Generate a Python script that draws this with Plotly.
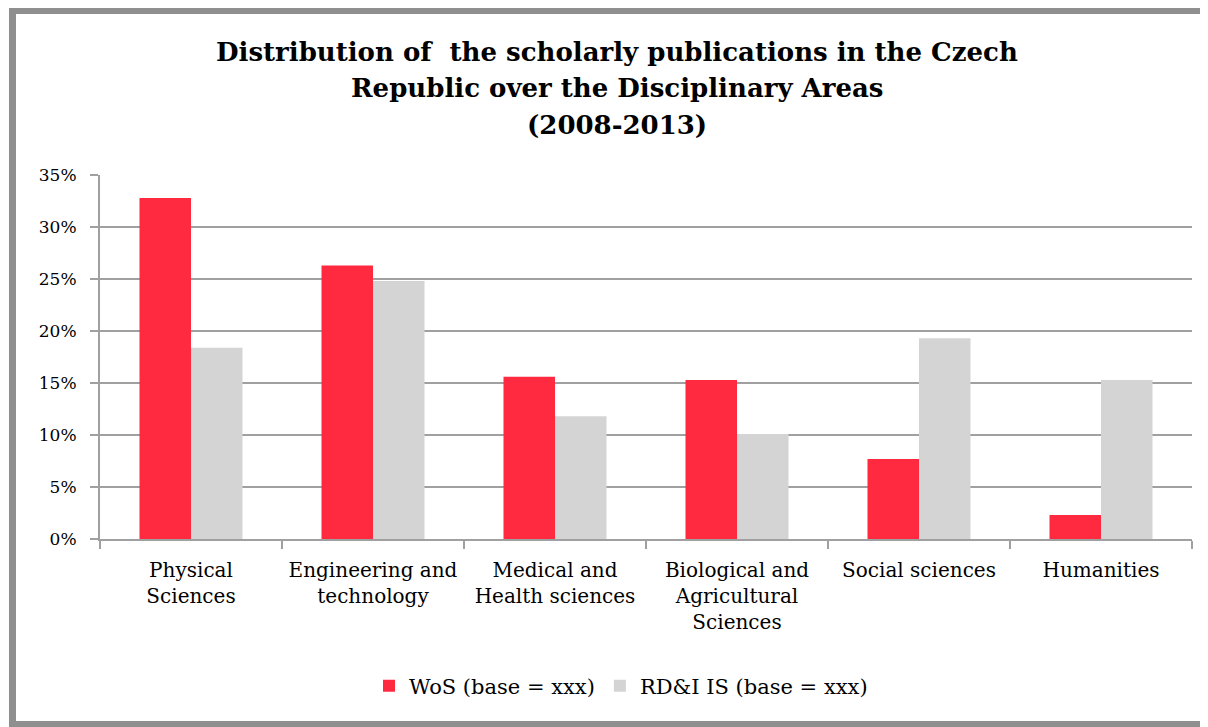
import plotly.graph_objects as go

categories = ["Physical<br>Sciences", "Engineering and<br>technology", "Medical and<br>Health sciences",
              "Biological and<br>Agricultural<br>Sciences", "Social sciences", "Humanities"]
wos = [0.328, 0.263, 0.156, 0.153, 0.077, 0.023]
rdi = [0.184, 0.248, 0.118, 0.101, 0.193, 0.153]
series_names = ["WoS (base = xxx)", "RD&I IS (base = xxx)"]
title_lines = ["Distribution of  the scholarly publications in the Czech",
               "Republic over the Disciplinary Areas",
               "(2008-2013)"]
y_ticks = [0, 0.05, 0.10, 0.15, 0.20, 0.25, 0.30, 0.35]

W, H = 1208, 727
OFF = 8  # page body margin offset
L, R, T, B = 100 - OFF, 1192 - OFF, 175 - OFF, 539 - OFF
FONT = "DejaVu Serif"

def px_x(x):
    return (x - OFF - L) / (R - L)

def px_y(y):
    return (B - (y - OFF)) / (B - T)

fig = go.Figure()
fig.add_trace(go.Bar(x=categories, y=wos, name=series_names[0], marker=dict(color="#FF2A40", line=dict(width=0))))
fig.add_trace(go.Bar(x=categories, y=rdi, name=series_names[1], marker=dict(color="#D4D4D4", line=dict(width=0))))

annotations = []
for line, yc in zip(title_lines, [52, 88, 125]):
    annotations.append(dict(text="<b>%s</b>" % line, xref="paper", yref="paper", x=px_x(617), y=px_y(yc),
                            xanchor="center", yanchor="middle", showarrow=False,
                            font=dict(family=FONT, size=26, color="#000000")))

fig.update_layout(
    width=W, height=H,
    margin=dict(l=L, r=W - R, t=T, b=H - B, pad=0),
    paper_bgcolor="white", plot_bgcolor="white",
    barmode="group", bargap=0.434, bargroupgap=0,
    font=dict(family=FONT, size=20, color="#000000"),
    showlegend=True,
    legend=dict(orientation="h", x=px_x(621), y=px_y(686), xanchor="center", yanchor="middle",
                font=dict(family=FONT, size=21, color="#000000"), itemwidth=30, traceorder="normal"),
    annotations=annotations,
    shapes=[dict(type="rect", xref="paper", yref="paper", x0=px_x(12.5), x1=px_x(1240),
                 y0=px_y(724.5), y1=px_y(10.5), line=dict(color="#8F8F8F", width=7), layer="above")],
    xaxis=dict(type="category", showline=True, linecolor="#A0A0A0", linewidth=2,
               ticks="outside", tickson="boundaries", ticklen=8, tickcolor="#A0A0A0", tickwidth=2,
               showgrid=False, tickfont=dict(family=FONT, size=20, color="#000000"),
               tickangle=0, ticklabelstandoff=12),
    yaxis=dict(range=[0, 0.35], tickvals=y_ticks, tickformat=".0%", showline=True, linecolor="#A0A0A0",
               linewidth=2, ticks="outside", ticklen=8, tickcolor="#A0A0A0", tickwidth=2,
               showgrid=True, gridcolor="#A0A0A0", gridwidth=2, zeroline=False,
               tickfont=dict(family=FONT, size=17, color="#000000"), ticklabelstandoff=10),
)

fig.write_html("out.html")
